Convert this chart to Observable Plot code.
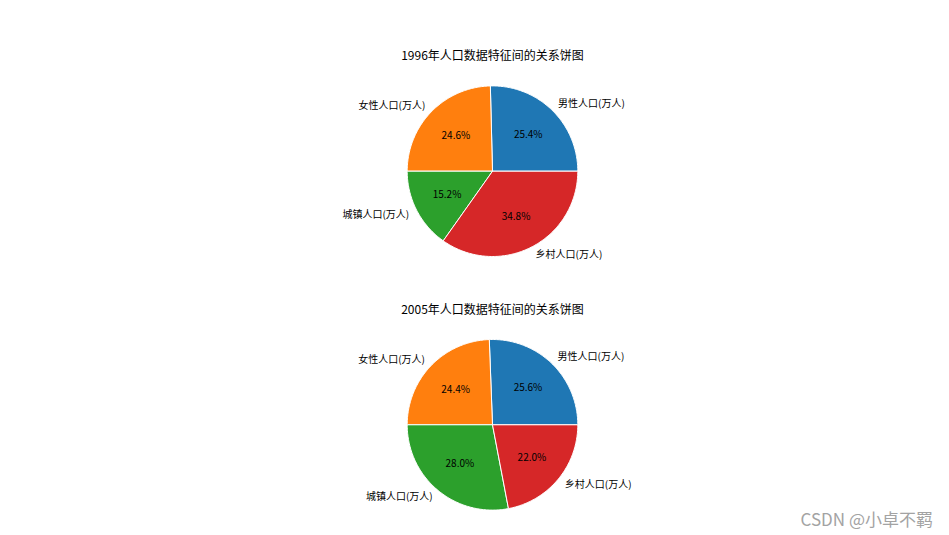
<!DOCTYPE html>
<html>
<head>
<meta charset="utf-8">
<script src="https://cdn.jsdelivr.net/npm/d3@7"></script>
<script src="https://cdn.jsdelivr.net/npm/@observablehq/plot@0.6"></script>
<style>
  html, body { margin: 0; padding: 0; background: #fff; overflow: hidden; }
  #wrap { position: relative; width: 949px; height: 535px; font-family: 'Noto Sans CJK SC', sans-serif; }
  .panel { position: absolute; left: 0; }
  #mark { position: absolute; right: 16px; top: 506px; color: #a3a3a3; font-size: 17px; font-family: 'Noto Sans CJK SC', 'Noto Sans', sans-serif; }
</style>
</head>
<body>
<div id="wrap">
  <div id="p1" class="panel" style="top:0px"></div>
  <div id="p2" class="panel" style="top:267px"></div>
  <div id="mark">CSDN @小卓不羁</div>
</div>
<script>
// ---- data ----
const categories = ["男性人口(万人)", "女性人口(万人)", "城镇人口(万人)", "乡村人口(万人)"];
const share1996 = [25.4, 24.6, 15.2, 34.8];
const share2005 = [25.6, 24.4, 28.0, 22.0];
const years = ["1996", "2005"];
const titleSuffix = "年人口数据特征间的关系饼图";
const colors = ["#1f77b4", "#ff7f0e", "#2ca02c", "#d62728"];

function pieData(values) {
  const total = d3.sum(values);
  let acc = 0;
  return values.map((v, i) => {
    const a0 = acc / total * 2 * Math.PI;
    acc += v;
    const a1 = acc / total * 2 * Math.PI;
    return { i, cat: categories[i], a0, a1, mid: (a0 + a1) / 2, pct: v / total * 100 };
  });
}

function outline(slices) {
  const pts = [];
  for (const s of slices) {
    pts.push({ cat: s.cat, x: 0, y: 0 });
    const n = Math.ceil((s.a1 - s.a0) / (Math.PI / 180)) + 1;
    for (let k = 0; k <= n; k++) {
      const t = s.a0 + (s.a1 - s.a0) * k / n;
      pts.push({ cat: s.cat, x: Math.cos(t), y: Math.sin(t) });
    }
    pts.push({ cat: s.cat, x: 0, y: 0 });
  }
  return pts;
}

function drawPie(values, year, cx, cy, R, height) {
  const slices = pieData(values);
  const labels = slices.map(s => ({ text: s.cat, x: 1.1 * Math.cos(s.mid), y: 1.1 * Math.sin(s.mid) }));
  const pcts = slices.map(s => ({ text: s.pct.toFixed(1) + "%", x: 0.6 * Math.cos(s.mid), y: 0.6 * Math.sin(s.mid) }));
  return Plot.plot({
    width: 949,
    height,
    margin: 0,
    style: { fontFamily: "'Noto Sans CJK SC', sans-serif", background: "white" },
    x: { domain: [-1, 1], range: [cx - R, cx + R], axis: null },
    y: { domain: [-1, 1], range: [cy + R, cy - R], axis: null },
    color: { domain: categories, range: colors },
    marks: [
      Plot.line(outline(slices), { x: "x", y: "y", z: "cat", fill: "cat", stroke: "white", strokeWidth: 1, strokeLinejoin: "round" }),
      Plot.text(pcts, { x: "x", y: "y", text: "text", fontSize: 10, fill: "black" }),
      Plot.text(labels.filter(d => d.x > 0), { x: "x", y: "y", text: "text", fontSize: 10, fill: "black", textAnchor: "start" }),
      Plot.text(labels.filter(d => d.x <= 0), { x: "x", y: "y", text: "text", fontSize: 10, fill: "black", textAnchor: "end" }),
      Plot.text([year + titleSuffix], { x: 0, y: 1.345, text: d => d, fontSize: 12, fill: "black" })
    ]
  });
}

document.getElementById("p1").appendChild(drawPie(share1996, years[0], 492, 170.7, 85.3, 267));
document.getElementById("p2").appendChild(drawPie(share2005, years[1], 492, 157.3, 85.3, 268));
</script>
</body>
</html>
